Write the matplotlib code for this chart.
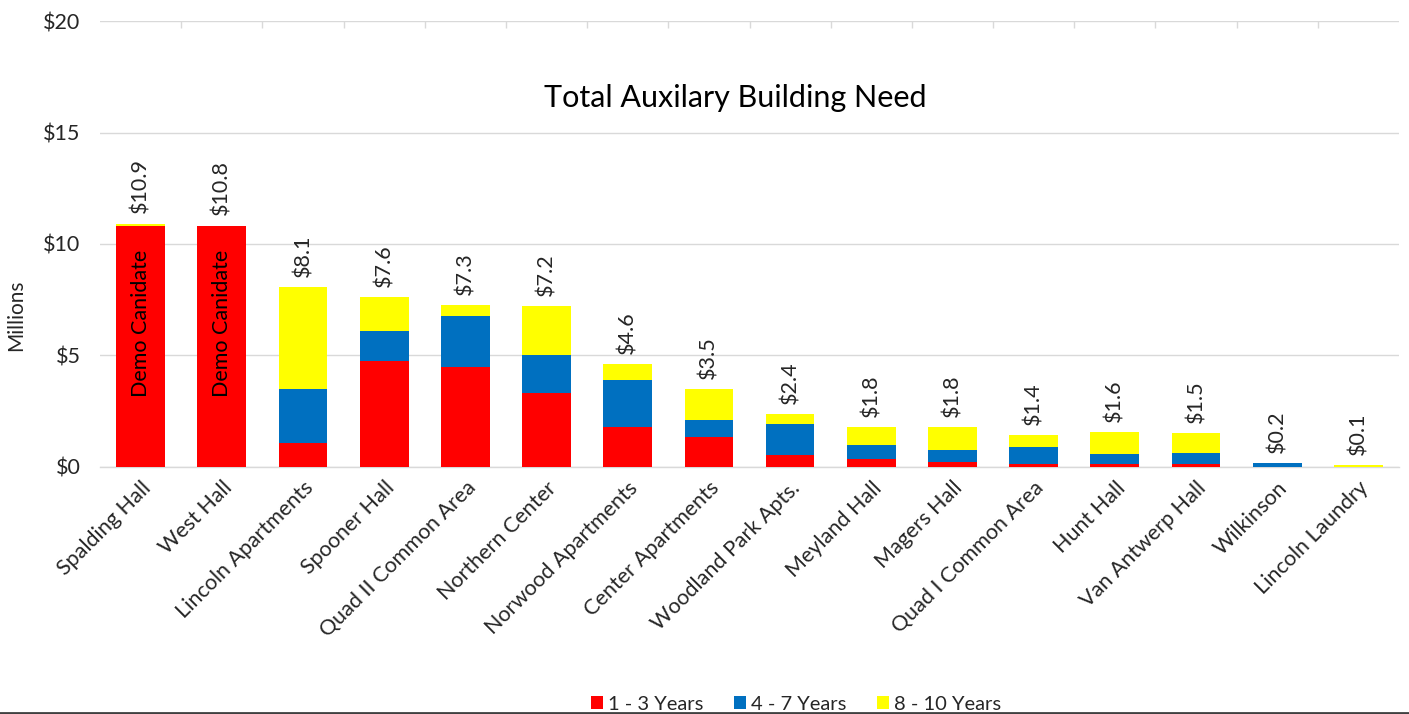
import matplotlib
matplotlib.use("Agg")
import matplotlib.pyplot as plt
import numpy as np
from matplotlib.lines import Line2D

plt.rcParams['font.family'] = ['Lato', 'DejaVu Sans']

buildings = ["Spalding Hall", "West Hall", "Lincoln Apartments", "Spooner Hall",
             "Quad II Common Area", "Northern Center", "Norwood Apartments",
             "Center Apartments", "Woodland Park Apts.", "Meyland Hall", "Magers Hall",
             "Quad I Common Area", "Hunt Hall", "Van Antwerp Hall", "Wilkinson",
             "Lincoln Laundry"]
yrs_1_3 = [10.82, 10.83, 1.06, 4.73, 4.49, 3.32, 1.80, 1.35, 0.51, 0.35, 0.22, 0.12, 0.12, 0.12, 0.00, 0.00]
yrs_4_7 = [0.00, 0.00, 2.43, 1.35, 2.28, 1.70, 2.09, 0.75, 1.41, 0.61, 0.52, 0.78, 0.44, 0.50, 0.18, 0.00]
yrs_8_10 = [0.10, 0.00, 4.57, 1.54, 0.48, 2.18, 0.74, 1.38, 0.45, 0.84, 1.06, 0.51, 1.00, 0.91, 0.00, 0.07]
total_labels = ["$10.9", "$10.8", "$8.1", "$7.6", "$7.3", "$7.2", "$4.6", "$3.5",
                "$2.4", "$1.8", "$1.8", "$1.4", "$1.6", "$1.5", "$0.2", "$0.1"]
demo_labels = ["Demo Canidate", "Demo Canidate"]
series_names = ["1 - 3 Years", "4 - 7 Years", "8 - 10 Years"]
y_ticks = [0, 5, 10, 15, 20]

RED, BLUE, YEL = "#FF0000", "#0070C0", "#FFFF00"

fig = plt.figure(figsize=(14.09, 7.14), dpi=100)
ax = fig.add_axes([100/1409, 1 - 466.7/714, 1299/1409, (466.7-21.3)/714])

x = np.arange(len(buildings))
a = np.array(yrs_1_3); b = np.array(yrs_4_7); c = np.array(yrs_8_10)
w = 0.6
ax.bar(x, a, w, color=RED, label=series_names[0], zorder=3)
ax.bar(x, b, w, bottom=a, color=BLUE, label=series_names[1], zorder=3)
ax.bar(x, c, w, bottom=a + b, color=YEL, label=series_names[2], zorder=3)

tot = a + b + c
for xi, t, lab in zip(x, tot, total_labels):
    ax.text(xi, t + 0.45, lab, rotation=90, ha='center', va='bottom',
            fontsize=15.5, color='#262626', zorder=4)
for xi, lab in zip(x[:len(demo_labels)], demo_labels):
    ax.text(xi, 6.45, lab, rotation=90, ha='center', va='center',
            fontsize=15.5, color='#000000', zorder=4)

ax.set_xlim(-0.5, len(buildings) - 0.5)
ax.set_ylim(0, 20)
ax.set_yticks(y_ticks)
ax.set_yticklabels([f"${v}" for v in y_ticks], fontsize=15.5, color='#262626')
ax.yaxis.grid(True, color='#D9D9D9', linewidth=1, zorder=0)
ax.tick_params(axis='y', length=0, pad=14)
ax.set_xticks(x)
ax.set_xticklabels(buildings, rotation=45, ha='right', rotation_mode='anchor',
                   fontsize=15.5, color='#262626')
ax.tick_params(axis='x', length=0, pad=8)
for s in ['left', 'right', 'top']:
    ax.spines[s].set_visible(False)
ax.spines['bottom'].set_color('#D9D9D9')
ax.spines['bottom'].set_linewidth(1)

sec = ax.secondary_xaxis('top')
sec.set_xticks(np.arange(0.5, len(buildings) - 0.5, 1.0))
sec.set_xticklabels([])
sec.tick_params(direction='in', length=5, color='#D9D9D9', width=1)
sec.spines['top'].set_visible(False)

fig.text(16/1409, 1 - 315/714, "Millions", rotation=90, ha='center', va='center',
         fontsize=15, color='#262626')

fig.text(735/1409, 1 - 98/714, "Total Auxilary Building Need", ha='center', va='center',
         fontsize=22, color='#000000')

leg = fig.legend(loc='center', bbox_to_anchor=(796/1409, 1 - 704/714), ncol=3,
                 frameon=False, fontsize=14.5, handlelength=0.6, handleheight=0.6,
                 handletextpad=0.25, columnspacing=1.5)
for t in leg.get_texts():
    t.set_color('#262626')

fig.add_artist(Line2D([0, 1], [1.2/714, 1.2/714], transform=fig.transFigure,
                      color='#404040', linewidth=2))

fig.savefig("out.png", dpi=100)
